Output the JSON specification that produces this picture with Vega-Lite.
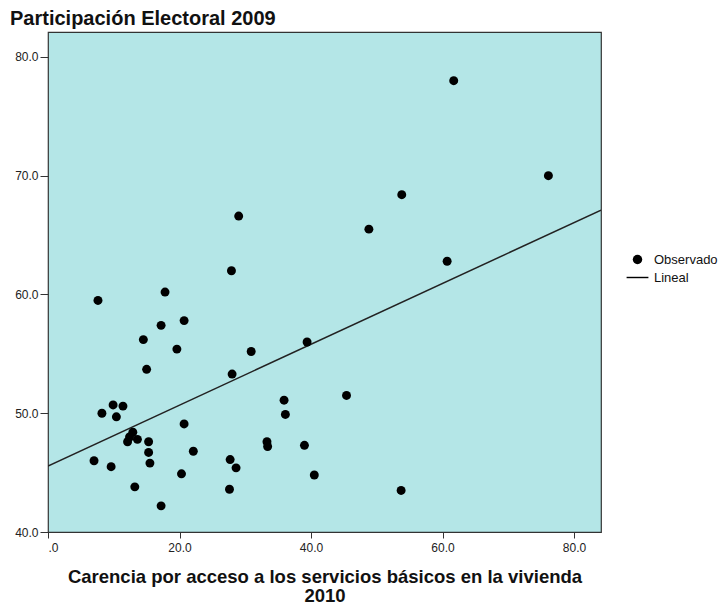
{
  "$schema": "https://vega.github.io/schema/vega-lite/v6.json",
  "width": 553,
  "height": 500,
  "autosize": "none",
  "padding": {"left": 48, "top": 32, "right": 119, "bottom": 76},
  "background": "white",
  "config": {
    "font": "Liberation Sans",
    "view": {"fill": "#b4e6e7", "stroke": "#333333", "strokeWidth": 1.2},
    "axis": {"grid": false, "domain": false, "tickColor": "#333333", "tickSize": 6, "labelFontSize": 12, "labelColor": "#222222", "labelFont": "Liberation Sans"}
  },
  "title": {
    "text": "Participación Electoral 2009",
    "anchor": "start",
    "frame": "group",
    "dx": -38,
    "offset": -13,
    "baseline": "alphabetic",
    "fontSize": 20,
    "fontWeight": "bold",
    "font": "Liberation Sans",
    "color": "#111111"
  },
  "datasets": {
    "obs": [
      {"x": 61.7, "y": 78.0}, {"x": 76.1, "y": 70.0}, {"x": 53.8, "y": 68.4}, {"x": 29.0, "y": 66.6},
      {"x": 48.8, "y": 65.5}, {"x": 60.7, "y": 62.8}, {"x": 27.9, "y": 62.0}, {"x": 7.6, "y": 59.5},
      {"x": 17.8, "y": 60.2}, {"x": 20.7, "y": 57.8}, {"x": 17.2, "y": 57.4}, {"x": 14.5, "y": 56.2},
      {"x": 19.6, "y": 55.4}, {"x": 30.9, "y": 55.2}, {"x": 39.4, "y": 56.0}, {"x": 15.0, "y": 53.7},
      {"x": 28.0, "y": 53.3}, {"x": 45.4, "y": 51.5}, {"x": 35.9, "y": 51.1}, {"x": 36.1, "y": 49.9},
      {"x": 8.2, "y": 50.0}, {"x": 9.9, "y": 50.7}, {"x": 11.4, "y": 50.6}, {"x": 10.4, "y": 49.7},
      {"x": 20.7, "y": 49.1}, {"x": 12.9, "y": 48.4}, {"x": 12.4, "y": 48.0}, {"x": 12.1, "y": 47.6},
      {"x": 13.6, "y": 47.8}, {"x": 15.3, "y": 47.6}, {"x": 15.3, "y": 46.7}, {"x": 15.5, "y": 45.8},
      {"x": 7.0, "y": 46.0}, {"x": 9.6, "y": 45.5}, {"x": 22.1, "y": 46.8}, {"x": 33.3, "y": 47.6},
      {"x": 33.4, "y": 47.2}, {"x": 39.0, "y": 47.3}, {"x": 27.7, "y": 46.1}, {"x": 28.6, "y": 45.4},
      {"x": 20.3, "y": 44.9}, {"x": 40.5, "y": 44.8}, {"x": 13.2, "y": 43.8}, {"x": 27.6, "y": 43.6},
      {"x": 53.7, "y": 43.5}, {"x": 17.2, "y": 42.2}
    ],
    "fit": [
      {"x": 0, "y": 45.56, "serie": "Lineal"},
      {"x": 84.1, "y": 67.1, "serie": "Lineal"}
    ]
  },
  "layer": [
    {
      "data": {"name": "fit"},
      "mark": {"type": "line", "color": "#222222", "strokeWidth": 1.5, "clip": true},
      "encoding": {
        "x": {"field": "x", "type": "quantitative"},
        "y": {"field": "y", "type": "quantitative"}
      }
    },
    {
      "data": {"name": "obs"},
      "transform": [{"calculate": "'Observado'", "as": "serie"}],
      "mark": {"type": "point", "filled": true, "color": "black", "opacity": 1, "size": 80},
      "encoding": {
        "x": {
          "field": "x", "type": "quantitative",
          "scale": {"domain": [0, 84.1], "nice": false, "zero": false},
          "axis": {
            "values": [0, 20, 40, 60, 80],
            "labelExpr": "datum.value == 0 ? '.0' : format(datum.value, '.1f')",
            "labelPadding": 4,
            "title": ["Carencia por acceso a los servicios básicos en la vivienda", "2010"],
            "titleFontSize": 18.5,
            "titleFontWeight": "bold",
            "titleColor": "#111111",
            "titleLineHeight": 19,
            "titlePadding": 14
          }
        },
        "y": {
          "field": "y", "type": "quantitative",
          "scale": {"domain": [40, 82.1], "nice": false, "zero": false},
          "axis": {
            "values": [40, 50, 60, 70, 80],
            "labelExpr": "format(datum.value, '.1f')",
            "tickSize": 8,
            "labelPadding": 2,
            "title": null
          }
        },
        "shape": {
          "field": "serie", "type": "nominal",
          "scale": {"domain": ["Observado", "Lineal"], "range": ["circle", "M-2.3,-0.15H2.3V0.15H-2.3Z"]},
          "legend": {
            "title": null,
            "orient": "none",
            "legendX": 583,
            "legendY": 221,
            "padding": 0,
            "symbolSize": 90,
            "symbolFillColor": "black",
            "symbolStrokeColor": "#222222",
            "symbolStrokeWidth": 0,
            "labelFontSize": 13,
            "labelColor": "#111111",
            "labelOffset": 10,
            "rowPadding": 4
          }
        }
      }
    }
  ]
}
